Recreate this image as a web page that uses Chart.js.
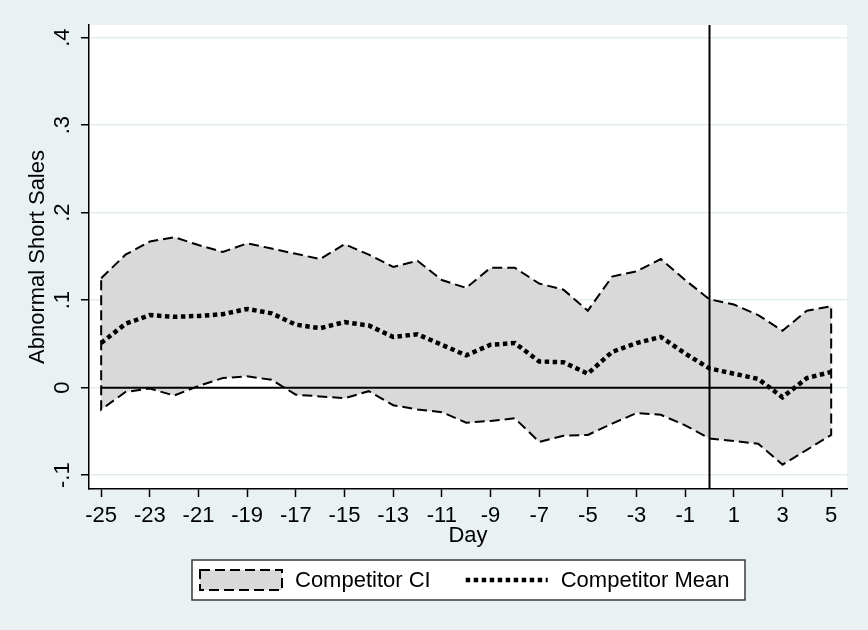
<!DOCTYPE html>
<html>
<head>
<meta charset="utf-8">
<title>Abnormal Short Sales around the event day</title>
<script src="https://cdn.jsdelivr.net/npm/chart.js@4.4.1/dist/chart.umd.min.js"></script>
<style>
  html, body { margin: 0; padding: 0; background: #e9f1f3; }
  canvas { display: block; }
</style>
</head>
<body>
<canvas id="chart" width="868" height="630"></canvas>
<script>
// Event window, in days relative to the announcement
const days = [-25, -24, -23, -22, -21, -20, -19, -18, -17, -16, -15, -14, -13, -12, -11, -10,
              -9, -8, -7, -6, -5, -4, -3, -2, -1, 0, 1, 2, 3, 4, 5];

// Upper and lower bounds of the competitor confidence interval
const ciUpper = [0.125, 0.152, 0.167, 0.172, 0.163, 0.155, 0.165, 0.159, 0.153, 0.147, 0.164,
                 0.152, 0.138, 0.145, 0.123, 0.114, 0.137, 0.137, 0.119, 0.112, 0.088, 0.127,
                 0.133, 0.147, 0.123, 0.101, 0.095, 0.083, 0.065, 0.088, 0.093];
const ciLower = [-0.025, -0.005, -0.001, -0.009, 0.002, 0.011, 0.013, 0.009, -0.008, -0.010, -0.012,
                 -0.004, -0.020, -0.025, -0.028, -0.040, -0.038, -0.035, -0.062, -0.055, -0.054, -0.041,
                 -0.029, -0.031, -0.043, -0.058, -0.061, -0.064, -0.088, -0.071, -0.054];

// Competitor mean abnormal short sales
const meanValues = [0.051, 0.073, 0.083, 0.081, 0.082, 0.084, 0.090, 0.085, 0.072, 0.068, 0.075,
                    0.071, 0.058, 0.061, 0.049, 0.037, 0.049, 0.051, 0.030, 0.029, 0.016, 0.041,
                    0.051, 0.058, 0.039, 0.022, 0.016, 0.010, -0.011, 0.011, 0.018];

// Axis ticks and labels
const xTickValues = [-25, -23, -21, -19, -17, -15, -13, -11, -9, -7, -5, -3, -1, 1, 3, 5];
const xTickLabels = ['-25', '-23', '-21', '-19', '-17', '-15', '-13', '-11', '-9', '-7', '-5', '-3', '-1', '1', '3', '5'];
const yTickValues = [-0.1, 0, 0.1, 0.2, 0.3, 0.4];
const yTickLabels = ['-.1', '0', '.1', '.2', '.3', '.4'];

const eventDay = 0;
const xTitle = 'Day';
const yTitle = 'Abnormal Short Sales';
const seriesNames = ['Competitor CI', 'Competitor Mean'];

const FONT_FAMILY = '"Liberation Sans", Arial, Helvetica, sans-serif';
const FONT_SIZE = 22;

// Closed outline of the confidence band: upper bound forward, lower bound back
const ciShape = days.map((d, i) => ({ x: d, y: ciUpper[i] }))
  .concat(days.map((d, i) => ({ x: d, y: ciLower[i] })).reverse());
ciShape.push(ciShape[0]);

const meanPoints = days.map((d, i) => ({ x: d, y: meanValues[i] }));
const zeroLine = [{ x: days[0], y: 0 }, { x: days[days.length - 1], y: 0 }];

// Light canvas background with a white plot region
const backdrop = {
  id: 'backdrop',
  beforeDraw(chart) {
    const { ctx, chartArea: a } = chart;
    ctx.save();
    ctx.fillStyle = '#e9f1f3';
    ctx.fillRect(0, 0, chart.width, chart.height);
    ctx.fillStyle = '#ffffff';
    ctx.fillRect(a.left, a.top, a.right - a.left, a.bottom - a.top);
    ctx.restore();
  }
};

// Vertical reference line on the event day
const eventLine = {
  id: 'eventLine',
  afterDatasetsDraw(chart) {
    const { ctx, chartArea: a, scales } = chart;
    const x = scales.x.getPixelForValue(eventDay);
    ctx.save();
    ctx.strokeStyle = '#000';
    ctx.lineWidth = 2;
    ctx.beginPath();
    ctx.moveTo(x, a.top);
    ctx.lineTo(x, a.bottom);
    ctx.stroke();
    ctx.restore();
  }
};

// Framed key under the axis title
const seriesKey = {
  id: 'seriesKey',
  afterDraw(chart) {
    const { ctx, chartArea: a } = chart;
    const ds = chart.data.datasets;
    const ci = ds.find(d => d.label === seriesNames[0]);
    const mean = ds.find(d => d.label === seriesNames[1]);
    ctx.save();
    ctx.font = FONT_SIZE + 'px ' + FONT_FAMILY;
    const w1 = ctx.measureText(seriesNames[0]).width;
    const w2 = ctx.measureText(seriesNames[1]).width;
    const sym = 82, gapText = 13, gapItem = 35, padL = 8, padR = 16;
    const content = sym + gapText + w1 + gapItem + sym + gapText + w2;
    const boxW = Math.round(content + padL + padR), boxH = 40;
    const left = Math.round((a.left + a.right) / 2 - boxW / 2);
    const top = chart.height - 70;
    const cy = top + boxH / 2;

    ctx.fillStyle = '#ffffff';
    ctx.fillRect(left, top, boxW, boxH);
    ctx.strokeStyle = '#3a3a3a';
    ctx.lineWidth = 1.5;
    ctx.strokeRect(left, top, boxW, boxH);

    let x = left + padL;
    ctx.fillStyle = ci.backgroundColor;
    ctx.fillRect(x, cy - 10, sym, 20);
    ctx.setLineDash(ci.borderDash);
    ctx.lineWidth = ci.borderWidth;
    ctx.strokeStyle = ci.borderColor;
    ctx.strokeRect(x, cy - 10, sym, 20);
    ctx.setLineDash([]);
    x += sym + gapText;
    ctx.fillStyle = '#000';
    ctx.textBaseline = 'middle';
    ctx.textAlign = 'left';
    ctx.fillText(seriesNames[0], x, cy + 1);
    x += w1 + gapItem;

    ctx.setLineDash(mean.borderDash);
    ctx.lineWidth = mean.borderWidth;
    ctx.strokeStyle = mean.borderColor;
    ctx.beginPath();
    ctx.moveTo(x, cy);
    ctx.lineTo(x + sym, cy);
    ctx.stroke();
    ctx.setLineDash([]);
    x += sym + gapText;
    ctx.fillText(seriesNames[1], x, cy + 1);
    ctx.restore();
  }
};

Chart.defaults.font.family = FONT_FAMILY;
Chart.defaults.font.size = FONT_SIZE;
Chart.defaults.color = '#000';

new Chart(document.getElementById('chart'), {
  type: 'line',
  data: {
    datasets: [
      {
        label: seriesNames[1],
        data: meanPoints,
        borderColor: '#000',
        borderWidth: 4.5,
        borderDash: [4.5, 3.5],
        pointRadius: 0,
        fill: false,
        tension: 0,
        order: 0
      },
      {
        label: 'zero',
        data: zeroLine,
        borderColor: '#000',
        borderWidth: 2,
        pointRadius: 0,
        fill: false,
        order: 1
      },
      {
        label: seriesNames[0],
        data: ciShape,
        borderColor: '#000',
        borderWidth: 2,
        borderDash: [10, 5],
        backgroundColor: '#d9d9d9',
        fill: 'shape',
        pointRadius: 0,
        tension: 0,
        order: 2
      }
    ]
  },
  options: {
    responsive: false,
    animation: false,
    layout: { padding: { top: 25, right: 21, bottom: 77, left: 0 } },
    plugins: {
      legend: { display: false },
      tooltip: { enabled: false }
    },
    scales: {
      x: {
        type: 'linear',
        min: -25.5,
        max: 5.65,
        afterBuildTicks: s => { s.ticks = xTickValues.map(v => ({ value: v })); },
        afterFit: s => { s.height = 64; },
        ticks: {
          callback: (v, i) => xTickLabels[i],
          autoSkip: false,
          maxRotation: 0,
          minRotation: 0,
          padding: 6,
          color: '#000'
        },
        grid: {
          drawOnChartArea: false,
          drawTicks: true,
          tickLength: 8,
          tickColor: '#000',
          tickWidth: 1.5
        },
        border: { display: true, color: '#000', width: 1.5 },
        title: {
          display: true,
          text: xTitle,
          color: '#000',
          padding: { top: 0, bottom: 4 }
        }
      },
      y: {
        type: 'linear',
        min: -0.1158,
        max: 0.4145,
        afterBuildTicks: s => { s.ticks = yTickValues.map(v => ({ value: v })); },
        afterFit: s => { s.width = 89; },
        ticks: {
          callback: (v, i) => yTickLabels[i],
          minRotation: 90,
          maxRotation: 90,
          crossAlign: 'center',
          padding: 5,
          color: '#000'
        },
        grid: {
          color: '#e3edf1',
          lineWidth: 1.5,
          drawTicks: true,
          tickLength: 8,
          tickColor: '#000',
          tickWidth: 1.5
        },
        border: { display: true, color: '#000', width: 1.5 },
        title: {
          display: true,
          text: yTitle,
          color: '#000',
          padding: { top: 25, bottom: 0 }
        }
      }
    }
  },
  plugins: [backdrop, eventLine, seriesKey]
});
</script>
</body>
</html>
